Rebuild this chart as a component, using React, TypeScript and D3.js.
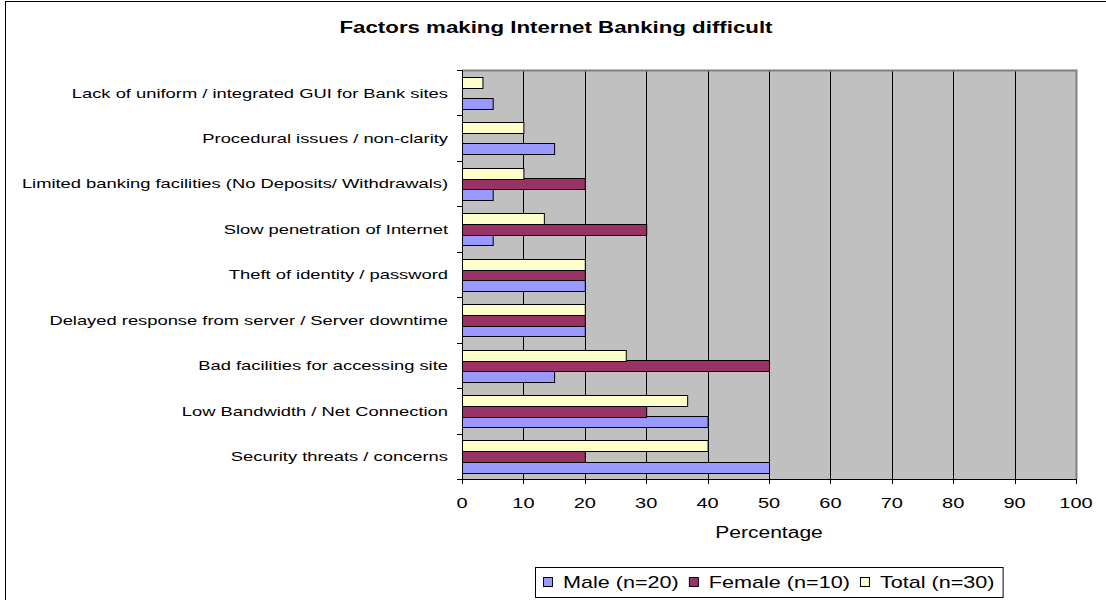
import React, { useEffect, useRef } from 'react';
import * as d3 from 'd3';

// ---- data (bottom category first) ----
const categories = [
  'Security threats / concerns',
  'Low Bandwidth / Net Connection',
  'Bad facilities for accessing site',
  'Delayed response from server / Server downtime',
  'Theft of identity / password',
  'Slow penetration of Internet',
  'Limited banking facilities (No Deposits/ Withdrawals)',
  'Procedural issues / non-clarity',
  'Lack of uniform / integrated GUI for Bank sites',
];
const maleValues = [50, 40, 15, 20, 20, 5, 5, 15, 5];
const femaleValues = [20, 30, 50, 20, 20, 30, 20, 0, 0];
const totalValues = [40, 36.67, 26.67, 20, 20, 13.33, 10, 10, 3.33];
const seriesNames = ['Male (n=20)', 'Female (n=10)', 'Total (n=30)'];
const seriesKeys = ['male', 'female', 'total'];
const seriesColors = ['#9999FF', '#993366', '#FFFFCC'];
const xTicks = [0, 10, 20, 30, 40, 50, 60, 70, 80, 90, 100];
const chartTitle = 'Factors making Internet Banking difficult';
const xAxisTitle = 'Percentage';

const FONT = "Arial, 'Liberation Sans', sans-serif";
const SX = 1.35; // horizontal stretch of the original picture

export default function App() {
  const ref = useRef<SVGSVGElement>(null);

  useEffect(() => {
    const svg = d3.select(ref.current);
    svg.selectAll('*').remove();

    const W = 1106, H = 600;
    const left = 462, right = 1076, top = 70, bottom = 479;

    // outer chart border (only left/top visible in the crop)
    svg.append('rect').attr('x', 5.5).attr('y', 1.5).attr('width', W + 20).attr('height', H + 20)
      .attr('fill', '#fff').attr('stroke', '#000').attr('stroke-width', 1);

    const x = d3.scaleLinear().domain([0, 100]).range([left, right]);
    const y = d3.scaleBand<string>().domain([...categories].reverse()).range([top, bottom]).padding(0);
    const bw = y.bandwidth();
    const barH = bw / 4.3;
    const gapHalf = (bw - 3 * barH) / 2;
    const inner = d3.scaleBand<string>().domain(['total', 'female', 'male']).range([gapHalf, bw - gapHalf]).padding(0);

    // plot area
    svg.append('rect').attr('x', left).attr('y', top).attr('width', right - left).attr('height', bottom - top)
      .attr('fill', '#C0C0C0');

    // gridlines
    svg.append('g').selectAll('line').data(xTicks.filter(t => t > 0 && t < 100)).join('line')
      .attr('x1', d => Math.round(x(d)) + 0.5).attr('x2', d => Math.round(x(d)) + 0.5)
      .attr('y1', top).attr('y2', bottom).attr('stroke', '#000').attr('stroke-width', 1);

    // plot border top/right gray
    svg.append('path').attr('d', `M${left},${top + 0.5}H${right + 0.5}V${bottom}`)
      .attr('fill', 'none').attr('stroke', '#808080').attr('stroke-width', 2);

    // bars
    const rows = categories.map((c, i) => ({ c, male: maleValues[i], female: femaleValues[i], total: totalValues[i] }));
    const gBars = svg.append('g');
    seriesKeys.forEach((k, si) => {
      gBars.append('g').selectAll('rect').data(rows.filter(r => (r as any)[k] > 0)).join('rect')
        .attr('x', left + 0.5)
        .attr('y', r => Math.round((y(r.c) as number) + (inner(k) as number)) + 0.5)
        .attr('width', r => x((r as any)[k]) - left)
        .attr('height', Math.round(barH))
        .attr('fill', seriesColors[si]).attr('stroke', '#000').attr('stroke-width', 1);
    });

    // x axis
    const xa = svg.append('g');
    xa.append('line').attr('x1', left - 5).attr('x2', right + 1).attr('y1', bottom + 0.5).attr('y2', bottom + 0.5)
      .attr('stroke', '#000');
    xa.selectAll('line.tick').data(xTicks).join('line').attr('class', 'tick')
      .attr('x1', d => Math.round(x(d)) + 0.5).attr('x2', d => Math.round(x(d)) + 0.5)
      .attr('y1', bottom).attr('y2', bottom + 5).attr('stroke', '#000');
    xa.selectAll('text').data(xTicks).join('text')
      .attr('transform', d => `translate(${x(d)},${bottom + 29}) scale(${SX},1)`)
      .attr('text-anchor', 'middle').attr('font-family', FONT).attr('font-size', 14.8).attr('fill', '#000')
      .text(d => String(d));

    // y axis
    const ya = svg.append('g');
    ya.append('line').attr('x1', left + 0.5).attr('x2', left + 0.5).attr('y1', top).attr('y2', bottom + 5)
      .attr('stroke', '#000');
    const bounds = [...y.domain().map(c => y(c) as number), bottom];
    ya.selectAll('line.tick').data(bounds).join('line').attr('class', 'tick')
      .attr('x1', left - 5).attr('x2', left).attr('y1', d => Math.round(d) + 0.5).attr('y2', d => Math.round(d) + 0.5)
      .attr('stroke', '#000');
    ya.selectAll('text').data(categories).join('text')
      .attr('transform', c => `translate(448,${(y(c) as number) + bw / 2 + 4.8}) scale(${SX},1)`)
      .attr('text-anchor', 'end').attr('font-family', FONT).attr('font-size', 13.6).attr('fill', '#000')
      .text(c => c);

    // axis title
    svg.append('text').attr('transform', `translate(${(left + right) / 2},${538}) scale(${SX},1)`)
      .attr('text-anchor', 'middle').attr('font-family', FONT).attr('font-size', 15.6).attr('fill', '#000')
      .text(xAxisTitle);

    // chart title
    svg.append('text').attr('transform', `translate(556,33) scale(${SX},1)`)
      .attr('text-anchor', 'middle').attr('font-family', FONT).attr('font-size', 16.5).attr('font-weight', 'bold')
      .attr('fill', '#000').text(chartTitle);

    // legend
    const lg = svg.append('g');
    const box = lg.append('rect').attr('fill', '#fff').attr('stroke', '#000').attr('stroke-width', 1);
    let cx = 0;
    const items: { sq: number; tx: number }[] = [];
    seriesNames.forEach((name, i) => {
      const sq = cx;
      lg.append('rect').attr('x', sq + 0.5).attr('y', 577.5).attr('width', 9).attr('height', 9)
        .attr('fill', seriesColors[i]).attr('stroke', '#000').attr('stroke-width', 1);
      const t = lg.append('text').attr('font-family', FONT).attr('font-size', 16).attr('fill', '#000').text(name);
      const tw = (t.node() as SVGTextElement).getComputedTextLength() * SX;
      t.attr('transform', `translate(${sq + 20},${588}) scale(${SX},1)`);
      cx = sq + 20 + tw + 10;
      items.push({ sq, tx: sq + 20 });
    });
    const totalW = cx - 10 + 8 + 8;
    const x0 = Math.round((left + right) / 2 - totalW / 2);
    lg.attr('transform', `translate(${x0 + 8},0)`);
    box.attr('x', -8 + 0.5).attr('y', 567.5).attr('width', totalW).attr('height', 30);
  }, []);

  return (
    <svg ref={ref} width={1106} height={600}
      style={{ position: 'absolute', left: 0, top: 0, background: '#fff' }} />
  );
}
